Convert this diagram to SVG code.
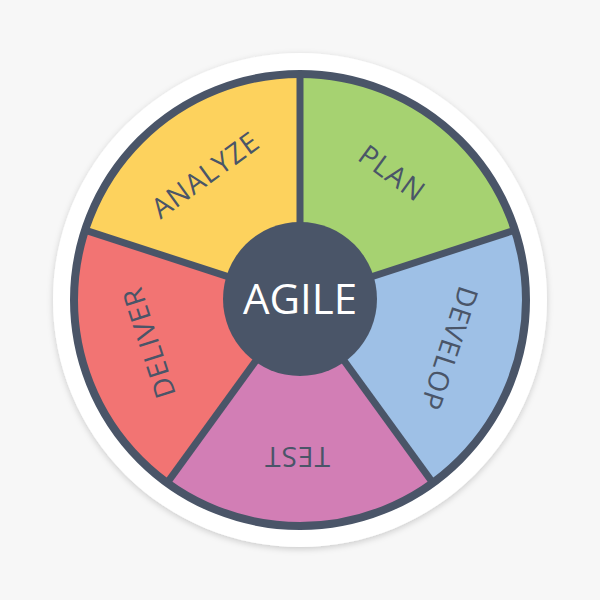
<svg xmlns="http://www.w3.org/2000/svg" width="600" height="600" viewBox="0 0 600 600">
  <defs>
    <filter id="shadow" x="-20%" y="-20%" width="140%" height="140%">
      <feDropShadow dx="0" dy="2" stdDeviation="3" flood-color="#000" flood-opacity="0.18"/>
    </filter>
  </defs>
  <style>
    .seg { stroke: none; }
    .lbl { font-family: "Open Sans", "Liberation Sans", sans-serif; font-size: 28px; fill: #4A5568; text-anchor: middle; letter-spacing: 1px; }
    .spoke { stroke: #4A5568; stroke-width: 7; stroke-linecap: butt; }
  </style>
  <rect width="600" height="600" fill="#F7F7F7"/>
  <circle cx="300" cy="300" r="247" fill="#FFFFFF" filter="url(#shadow)"/>

  <g id="plan">
    <path class="seg" fill="#A6D271" d="M300,300 L300,74 A226,226 0 0 1 514.95,230.17 Z"/>
    <text class="lbl" transform="rotate(36 300 300)" x="300" y="153">PLAN</text>
  </g>
  <g id="develop">
    <path class="seg" fill="#9EC0E6" d="M300,300 L514.95,230.17 A226,226 0 0 1 432.84,482.84 Z"/>
    <text class="lbl" transform="rotate(108 300 300)" x="300" y="153">DEVELOP</text>
  </g>
  <g id="test">
    <path class="seg" fill="#D27EB5" d="M300,300 L432.84,482.84 A226,226 0 0 1 167.16,482.84 Z"/>
    <text class="lbl" transform="rotate(180 300 300)" x="303" y="153">TEST</text>
  </g>
  <g id="deliver">
    <path class="seg" fill="#F27473" d="M300,300 L167.16,482.84 A226,226 0 0 1 85.05,230.17 Z"/>
    <text class="lbl" transform="rotate(252 300 300)" x="306" y="153">DELIVER</text>
  </g>
  <g id="analyze">
    <path class="seg" fill="#FDD25D" d="M300,300 L85.05,230.17 A226,226 0 0 1 300,74 Z"/>
    <text class="lbl" transform="rotate(-36 300 300)" x="297" y="153">ANALYZE</text>
  </g>

  <g id="connectors">
    <line class="spoke" x1="300" y1="300" x2="300" y2="74"/>
    <line class="spoke" x1="300" y1="300" x2="514.95" y2="230.17"/>
    <line class="spoke" x1="300" y1="300" x2="432.84" y2="482.84"/>
    <line class="spoke" x1="300" y1="300" x2="167.16" y2="482.84"/>
    <line class="spoke" x1="300" y1="300" x2="85.05" y2="230.17"/>
  </g>

  <circle id="ring" cx="300" cy="300" r="226" fill="none" stroke="#4A5568" stroke-width="8"/>

  <g id="agile">
    <circle cx="300" cy="299" r="77" fill="#4A5568"/>
    <text x="300" y="314" font-family="'Open Sans', 'Liberation Sans', sans-serif" font-size="42" fill="#FFFFFF" text-anchor="middle">AGILE</text>
  </g>
</svg>
